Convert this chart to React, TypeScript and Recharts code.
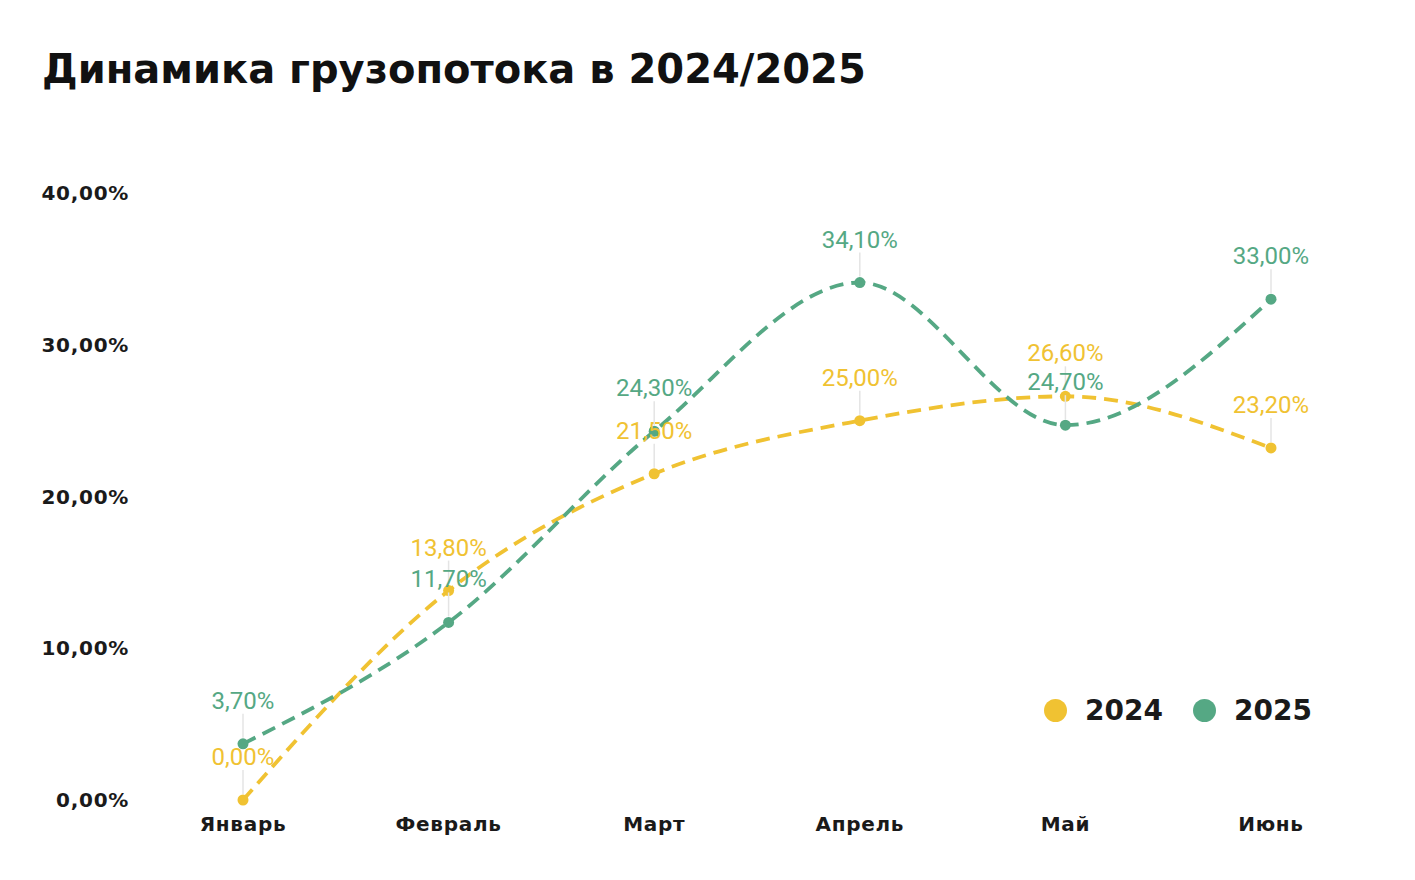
import { LineChart, Line, XAxis, YAxis, Legend } from "recharts";

const months = ["Январь", "Февраль", "Март", "Апрель", "Май", "Июнь"];
const values2024 = [0, 13.8, 21.5, 25.0, 26.6, 23.2];
const values2025 = [3.7, 11.7, 24.3, 34.1, 24.7, 33.0];
const yTicks = [0, 10, 20, 30, 40];

const YELLOW = "#F0C232";
const GREEN = "#55A884";

const data = months.map((m, i) => ({
  month: m,
  y2024: values2024[i],
  y2025: values2025[i],
}));

const fmt = (v: number) => v.toFixed(2).replace(".", ",") + "%";

// value labels with a thin leader line down to the point
function makeLabel(color: string) {
  return (props: any) => {
    const { x, y, value } = props;
    if (x == null || y == null) return null;
    return (
      <g>
        <line x1={x} y1={y - 6} x2={x} y2={y - 30} stroke="#e4e4e4" strokeWidth={1.5} />
        <text
          x={x}
          y={y - 43}
          textAnchor="middle"
          dominantBaseline="central"
          fill={color}
          fontFamily="Roboto"
          fontSize={24}
        >
          {fmt(value)}
        </text>
      </g>
    );
  };
}

function LegendContent({ payload }: any) {
  const items = (payload || []).filter(
    (p: any) => p.type !== "none" && p.payload?.legendType !== "none"
  );
  return (
    <div style={{ display: "flex", alignItems: "center" }}>
      {items.map((p: any) => (
        <div key={p.value} style={{ display: "flex", alignItems: "center", marginRight: 30 }}>
          <span
            style={{
              width: 23,
              height: 23,
              borderRadius: "50%",
              background: p.color,
              display: "inline-block",
              marginRight: 18,
            }}
          />
          <span
            style={{
              fontFamily: "DejaVu Sans",
              fontWeight: "bold",
              fontSize: 28,
              color: "#1a1a1a",
            }}
          >
            {p.value}
          </span>
        </div>
      ))}
    </div>
  );
}

const axisFont = {
  fontFamily: "DejaVu Sans",
  fontWeight: "bold",
  fontSize: 20,
  letterSpacing: 0.7,
  fill: "#1a1a1a",
};

export default function App() {
  return (
    <div style={{ position: "relative", width: 1399, height: 864, background: "#fff" }}>
      <div
        style={{
          position: "absolute",
          left: 34,
          top: 41,
          fontFamily: "DejaVu Sans",
          fontWeight: "bold",
          fontSize: 40,
          lineHeight: 1,
          color: "#111",
          whiteSpace: "nowrap",
        }}
      >
        Динамика грузопотока в 2024/2025
      </div>
      <LineChart
        width={1399}
        height={864}
        data={data}
        margin={{ top: 185, right: 33, bottom: 32, left: 0 }}
      >
        <XAxis
          dataKey="month"
          axisLine={false}
          tickLine={false}
          tickSize={0}
          tickMargin={17}
          height={40}
          padding={{ left: 103, right: 103 }}
          tick={axisFont}
        />
        <YAxis
          domain={[0, 40]}
          ticks={yTicks}
          width={132}
          axisLine={false}
          tickLine={false}
          tickSize={0}
          tickMargin={11}
          tickFormatter={fmt}
          tick={axisFont}
        />
        <Legend
          layout="horizontal"
          align="center"
          verticalAlign="middle"
          content={<LegendContent />}
          wrapperStyle={{ position: "absolute", left: 1036, top: 686, width: "auto" }}
        />
        {/* labels first so lines and dots sit on top of them */}
        <Line
          dataKey="y2024"
          stroke="none"
          dot={false}
          activeDot={false}
          legendType="none"
          label={makeLabel(YELLOW)}
          isAnimationActive={false}
        />
        <Line
          dataKey="y2025"
          stroke="none"
          dot={false}
          activeDot={false}
          legendType="none"
          label={makeLabel(GREEN)}
          isAnimationActive={false}
        />
        <Line
          name="2024"
          type="monotone"
          dataKey="y2024"
          stroke={YELLOW}
          strokeWidth={3.8}
          strokeDasharray="14 8"
          dot={{ r: 5.5, fill: YELLOW, stroke: YELLOW, strokeWidth: 0 }}
          isAnimationActive={false}
        />
        <Line
          name="2025"
          type="monotone"
          dataKey="y2025"
          stroke={GREEN}
          strokeWidth={3.8}
          strokeDasharray="14 8"
          dot={{ r: 5.5, fill: GREEN, stroke: GREEN, strokeWidth: 0 }}
          isAnimationActive={false}
        />
      </LineChart>
    </div>
  );
}
